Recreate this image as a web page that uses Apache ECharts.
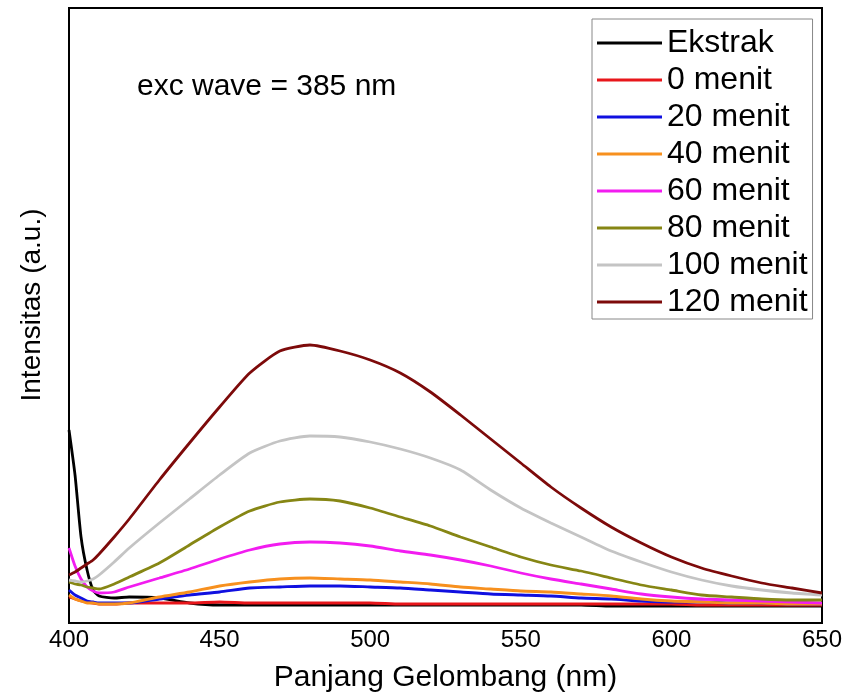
<!DOCTYPE html>
<html>
<head>
<meta charset="utf-8">
<script src="https://cdn.jsdelivr.net/npm/echarts@6/dist/echarts.min.js"></script>
<style>
  html, body { margin: 0; padding: 0; background: #fff; }
  #chart { width: 845px; height: 694px; }
</style>
</head>
<body>
<div id="chart"></div>
<script>
// Emission wavelength grid (nm)
const wavelength = [400, 402, 404, 406, 408, 410, 415, 420, 430, 440, 450, 460, 470, 480, 490, 500,
                    510, 520, 530, 540, 550, 560, 570, 580, 590, 600, 610, 620, 630, 640, 650];

// Fluorescence intensity (a.u.) for each sample
const ekstrak  = [193, 148, 86, 53, 33, 27, 25, 26, 25, 20, 18, 18, 18, 18, 18, 18,
                  18, 18, 18, 18, 18, 18, 18, 17, 17, 17, 17, 17, 17, 17, 17];
const menit0   = [26, 24, 22, 21, 20, 19, 19, 20, 20, 20, 21, 20, 20, 20, 20, 20,
                  19, 19, 19, 19, 19, 19, 19, 19, 19, 19, 18, 18, 18, 18, 18];
const menit20  = [33, 28, 25, 22, 21, 20, 20, 20, 24, 28, 31, 35, 36, 37, 37, 36,
                  35, 33, 31, 29, 28, 27, 25, 24, 22, 21, 21, 20, 20, 19, 19];
const menit40  = [28, 24, 22, 20, 20, 19, 19, 20, 26, 31, 37, 41, 44, 45, 44, 43,
                  41, 39, 36, 34, 32, 31, 29, 27, 24, 22, 21, 20, 20, 19, 19];
const menit60  = [75, 57, 44, 36, 32, 30, 31, 36, 45, 54, 64, 73, 79, 81, 80, 77,
                  72, 68, 63, 57, 50, 44, 39, 34, 29, 26, 24, 23, 22, 21, 20];
const menit80  = [41, 39, 38, 36, 35, 34, 39, 46, 60, 78, 96, 112, 121, 124, 122, 115,
                  106, 97, 86, 76, 66, 58, 52, 45, 38, 33, 28, 26, 24, 23, 23];
const menit100 = [43, 42, 41, 42, 44, 48, 61, 75, 100, 124, 148, 170, 182, 187, 186, 181,
                  174, 165, 153, 133, 115, 100, 86, 72, 61, 51, 43, 37, 33, 30, 28];
const menit120 = [48, 51, 55, 59, 63, 69, 86, 104, 143, 180, 216, 250, 272, 278, 272, 263,
                  250, 231, 208, 184, 160, 136, 115, 96, 80, 66, 55, 47, 40, 35, 30];

const seriesNames  = ['Ekstrak', '0 menit', '20 menit', '40 menit', '60 menit', '80 menit', '100 menit', '120 menit'];
const seriesValues = [ekstrak, menit0, menit20, menit40, menit60, menit80, menit100, menit120];
const seriesColors = ['#000000', '#e8161b', '#1010e0', '#f7901e', '#f21cf0', '#868614', '#c4c4c4', '#7d0a0a'];

const xTicks = [400, 450, 500, 550, 600, 650];

const FONT = 'Liberation Sans, Arial, sans-serif';

const chart = echarts.init(document.getElementById('chart'), null, { renderer: 'canvas' });

const series = seriesNames.map((name, i) => ({
  name: name,
  type: 'line',
  data: wavelength.map((w, k) => [w, seriesValues[i][k]]),
  symbol: 'none',
  showSymbol: false,
  smooth: 0.2,
  lineStyle: { color: seriesColors[i], width: 2.8 },
  itemStyle: { color: seriesColors[i] },
  emphasis: { disabled: true },
  animation: false
}));

chart.setOption({
  backgroundColor: '#ffffff',
  animation: false,
  grid: {
    left: 69, right: 23, top: 8, bottom: 71,
    outerBoundsMode: 'none',
    show: true, borderColor: '#000', borderWidth: 2, backgroundColor: 'transparent'
  },
  xAxis: {
    type: 'value',
    min: xTicks[0],
    max: xTicks[xTicks.length - 1],
    interval: 50,
    name: 'Panjang Gelombang (nm)',
    nameLocation: 'middle',
    nameGap: 40,
    nameTextStyle: { fontFamily: FONT, fontSize: 30, color: '#000' },
    axisLine: { show: true, lineStyle: { color: '#000', width: 2 } },
    axisTick: { show: false },
    splitLine: { show: false },
    axisLabel: { fontFamily: FONT, fontSize: 24, color: '#000', margin: 5 }
  },
  yAxis: {
    type: 'value',
    min: 0,
    max: 615,
    axisLine: { show: true, lineStyle: { color: '#000', width: 2 } },
    axisTick: { show: false },
    axisLabel: { show: false },
    splitLine: { show: false }
  },
  legend: {
    data: seriesNames,
    orient: 'vertical',
    left: 592,
    top: 19,
    padding: [8, 5, 1, 5],
    icon: 'rect',
    itemWidth: 65,
    itemHeight: 3,
    itemGap: 5,
    borderColor: '#888',
    borderWidth: 1,
    backgroundColor: '#fff',
    selectedMode: false,
    textStyle: { fontFamily: FONT, fontSize: 32, color: '#000', lineHeight: 29 }
  },
  graphic: [{
    type: 'text',
    left: 137,
    top: 72,
    style: { text: 'exc wave = 385 nm', font: '30px ' + FONT, fill: '#000' }
  }, {
    type: 'text',
    x: 32,
    y: 305,
    rotation: Math.PI / 2,
    style: {
      text: 'Intensitas (a.u.)', font: '28px ' + FONT, fill: '#000',
      align: 'center', verticalAlign: 'middle'
    }
  }],
  series: series
});
</script>
</body>
</html>
